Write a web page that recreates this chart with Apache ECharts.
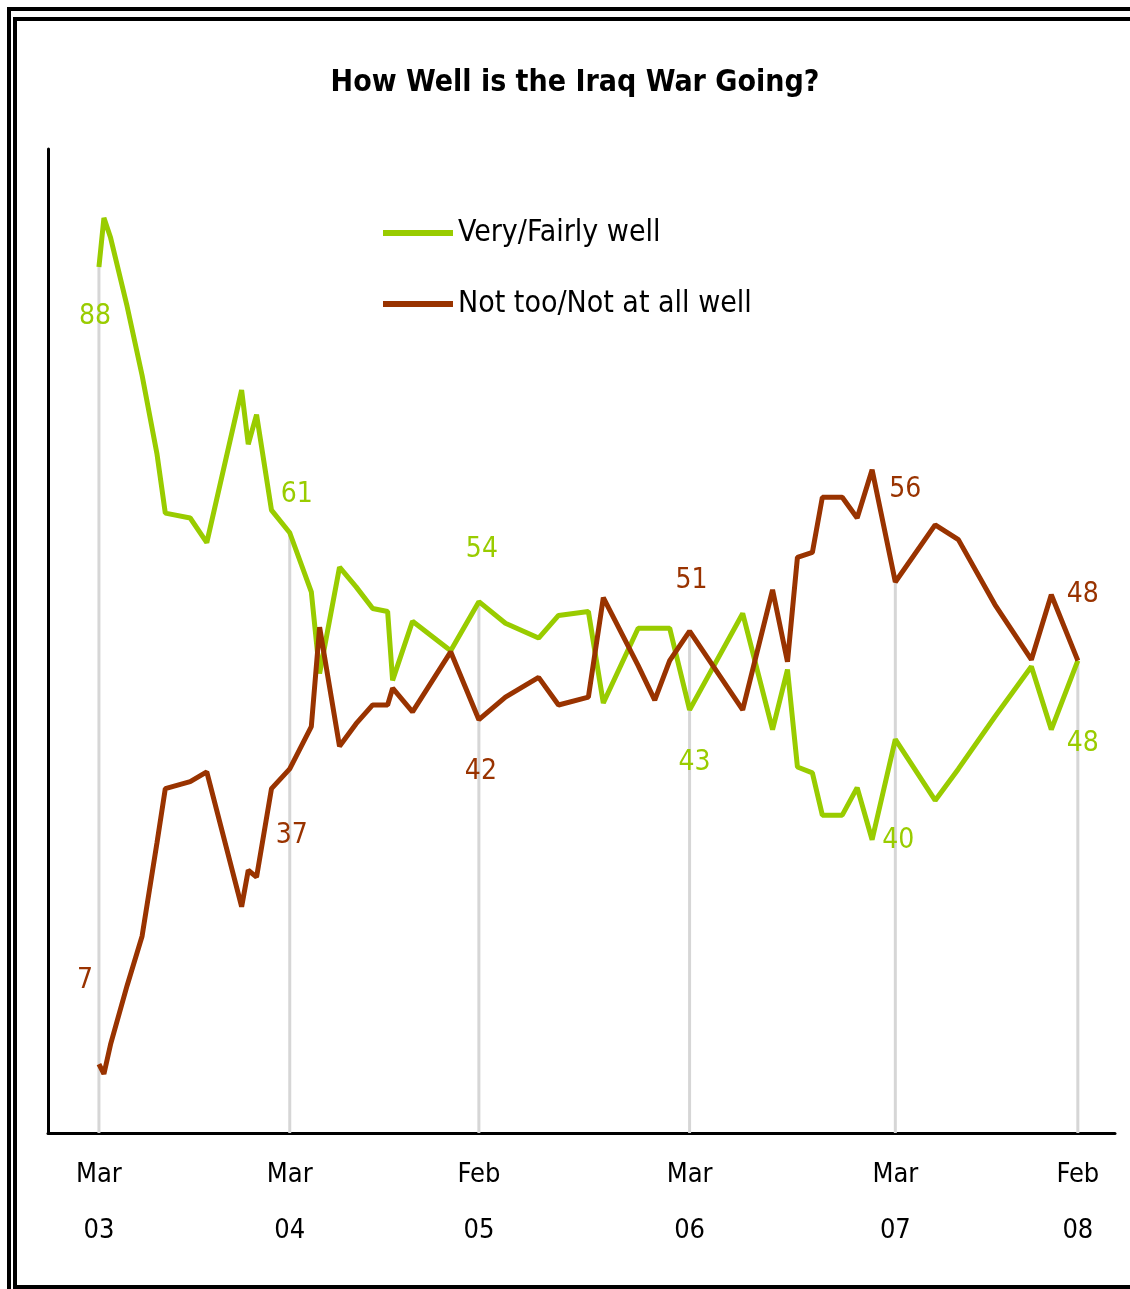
<!DOCTYPE html>
<html>
<head>
<meta charset="utf-8">
<title>How Well is the Iraq War Going?</title>
<script src="https://cdn.jsdelivr.net/npm/echarts@6/dist/echarts.min.js"></script>
<style>
html, body { margin: 0; padding: 0; background: #fff; }
#main { width: 1130px; height: 1289px; }
</style>
</head>
<body>
<div id="main"></div>
<script>
// survey timing, in months counted from Jan 2003
var months = [2, 2.3, 2.7, 3.7, 4.6, 5.5, 6, 7.5, 8.5, 10.6, 11, 11.5, 12.4, 13.5,
    14.8, 15.3, 16.5, 17.5, 18.5, 19.4, 19.7, 20.9, 23.2, 24.9, 26.5, 28.5, 29.7,
    31.5, 32.4, 34.5, 35.5, 36.4, 37.6, 40.8, 42.6, 43.5, 44.1, 45, 45.6, 46.8,
    47.7, 48.6, 50, 52.4, 53.8, 56, 58.2, 59.4, 61];

var veryWell = [88, 93, 91, 84, 77, 69, 63, 62.5, 60, 75.5, 70, 73, 63.3, 61,
    55, 46.7, 57.5, 55.5, 53.3, 53, 46, 52, 49, 54, 51.8, 50.3, 52.6,
    53, 43.7, 51.3, 51.3, 51.3, 43, 52.8, 41, 47.1, 37.2, 36.6, 32.3, 32.3,
    35.1, 29.8, 40, 33.8, 37, 42.3, 47.4, 41, 48];

var notWell = [7, 6, 9, 15, 20, 29.5, 35, 35.7, 36.7, 23, 26.7, 26, 35, 37,
    41.3, 51.4, 39.3, 41.6, 43.5, 43.5, 45.2, 42.8, 48.9, 42, 44.3, 46.3, 43.5,
    44.3, 54.4, 47.5, 44, 48, 51, 43, 55.2, 47.9, 58.5, 59, 64.6, 64.6,
    62.5, 67.4, 56, 61.8, 60.3, 53.7, 48.1, 54.7, 48];

// tick labels under the x axis
var tickMonths = [2, 13.5, 24.9, 37.6, 50, 61];
var tickLabels = ['Mar\n03', 'Mar\n04', 'Feb\n05', 'Mar\n06', 'Mar\n07', 'Feb\n08'];

// surveys that carry a value label and a gray drop line
var labelIdx = [0, 13, 23, 32, 42, 48];

var GREEN = '#99cc00';
var RED = '#993300';
var NARROW = "'Liberation Sans Narrow', 'DejaVu Sans Condensed', 'Arial Narrow', sans-serif";

// label offsets (px) from each labelled point
var greenOffsets = [[-4, 50], [7, -38], [3, -52], [5, 53], [3, 101], [5, 83]];
var redOffsets = [[-14, -83], [2, 67], [2, 52], [2, -50], [10, -92], [5, -66]];

function pairs(vals) {
    return months.map(function (m, i) { return [m, vals[i]]; });
}

function labelData(vals, offsets) {
    return labelIdx.map(function (idx, k) {
        return {
            value: [months[idx], vals[idx]],
            label: { offset: offsets[k] }
        };
    });
}

var drops = labelIdx.map(function (idx) {
    return [months[idx], Math.max(veryWell[idx], notWell[idx])];
});

function frame(x, y, w, h) {
    return { type: 'rect', shape: { x: x, y: y, width: w, height: h }, style: { fill: '#000' }, silent: true };
}

function labelSeries(name, vals, offsets, color) {
    return {
        name: name,
        type: 'scatter',
        symbolSize: 0,
        itemStyle: { opacity: 1, color: color },
        data: labelData(vals, offsets),
        label: {
            show: true,
            position: 'inside',
            fontFamily: NARROW,
            fontSize: 28,
            color: color,
            opacity: 1,
            formatter: function (p) { return Math.round(p.value[1]); }
        },
        z: 5,
        silent: true
    };
}

var option = {
    animation: false,
    backgroundColor: '#fff',
    title: {
        text: 'How Well is the Iraq War Going?',
        left: 570,
        textAlign: 'center',
        top: 63,
        textStyle: { fontFamily: NARROW, fontSize: 30, fontWeight: 'bold', color: '#000' }
    },
    legend: {
        data: ['Very/Fairly well', 'Not too/Not at all well'],
        orient: 'vertical',
        left: 378,
        top: 212,
        icon: 'rect',
        itemWidth: 70,
        itemHeight: 6,
        itemGap: 39,
        textStyle: { fontFamily: NARROW, fontSize: 30, lineHeight: 32, color: '#000' }
    },
    grid: { left: 48, right: 15, top: 149, bottom: 156 },
    xAxis: {
        type: 'value',
        min: -1.07,
        max: 63.24,
        splitLine: { show: false },
        axisTick: { show: false },
        axisLine: { lineStyle: { color: '#000', width: 3 } },
        axisLabel: {
            customValues: tickMonths,
            margin: 14,
            fontFamily: NARROW,
            fontSize: 27,
            lineHeight: 56,
            color: '#000',
            formatter: function (v) {
                var k = tickMonths.indexOf(v);
                return k >= 0 ? tickLabels[k] : '';
            }
        }
    },
    yAxis: {
        type: 'value',
        min: 0,
        max: 100,
        splitLine: { show: false },
        axisTick: { show: false },
        axisLabel: { show: false },
        axisLine: { show: true, onZero: false, lineStyle: { color: '#000', width: 3 } }
    },
    series: [
        {
            name: 'drops',
            type: 'bar',
            barWidth: 3,
            itemStyle: { color: '#d6d6d6' },
            data: drops,
            z: 1,
            silent: true
        },
        {
            name: 'Very/Fairly well',
            type: 'line',
            symbol: 'none',
            color: GREEN,
            lineStyle: { color: GREEN, width: 5 },
            data: pairs(veryWell),
            z: 3
        },
        {
            name: 'Not too/Not at all well',
            type: 'line',
            symbol: 'none',
            color: RED,
            lineStyle: { color: RED, width: 5 },
            data: pairs(notWell),
            z: 4
        },
        labelSeries('greenLabels', veryWell, greenOffsets, GREEN),
        labelSeries('redLabels', notWell, redOffsets, RED)
    ],
    graphic: [
        frame(7, 7, 1123, 4),
        frame(7, 7, 4, 1282),
        frame(13, 17, 1117, 4),
        frame(13, 17, 4, 1272),
        frame(13, 1285, 1117, 4)
    ]
};

var myChart = echarts.init(document.getElementById('main'));
myChart.setOption(option);
</script>
</body>
</html>
